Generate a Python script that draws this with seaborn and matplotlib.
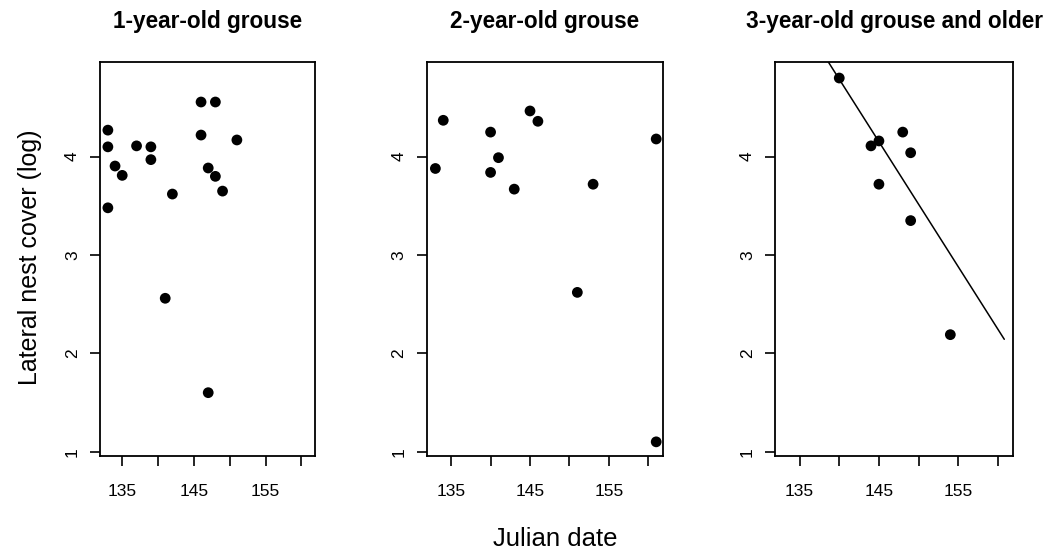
import matplotlib
matplotlib.use("Agg")
import matplotlib.pyplot as plt
import seaborn as sns
import pandas as pd

# ---- data ----
titles = ["1-year-old grouse", "2-year-old grouse", "3-year-old grouse and older"]

date_1yr = [133, 133, 133, 134, 135, 137, 139, 139, 142, 141, 146, 148, 146, 151, 147, 148, 149, 147]
cover_1yr = [4.27, 4.10, 3.48, 3.905, 3.81, 4.11, 4.10, 3.97, 3.62, 2.56, 4.556, 4.556, 4.22, 4.17,
             3.885, 3.80, 3.65, 1.60]

date_2yr = [133, 134, 140, 140, 141, 143, 145, 146, 151, 153, 161, 161]
cover_2yr = [3.88, 4.37, 4.25, 3.84, 3.99, 3.67, 4.465, 4.36, 2.62, 3.72, 4.18, 1.10]

date_3yr = [140, 144, 145, 148, 149, 145, 149, 154]
cover_3yr = [4.80, 4.11, 4.16, 4.25, 4.04, 3.72, 3.35, 2.19]

fit_x_3yr = [138.6, 160.8]
fit_y_3yr = [4.966, 2.143]

x_ticks = [135, 140, 145, 150, 155, 160]
x_tick_labels = ["135", "", "145", "", "155", ""]
y_ticks = [1, 2, 3, 4]
y_tick_labels = ["1", "2", "3", "4"]

x_label = "Julian date"
y_label = "Lateral nest cover (log)"

# ---- style ----
sns.set_theme(style="white")
plt.rcParams["font.family"] = ["Liberation Sans", "DejaVu Sans"]

W, H = 1052, 550
fig = plt.figure(figsize=(W / 100, H / 100), dpi=100)
fig.patch.set_facecolor("white")

# axes boxes in pixel coordinates (left, top, right, bottom)
boxes = [(100, 61.7, 315, 456), (426.7, 61.7, 663.3, 456), (775, 61.7, 1013, 456)]

frames = [
    pd.DataFrame({"date": date_1yr, "cover": cover_1yr}),
    pd.DataFrame({"date": date_2yr, "cover": cover_2yr}),
    pd.DataFrame({"date": date_3yr, "cover": cover_3yr}),
]

for i, (box, df) in enumerate(zip(boxes, frames)):
    l, t, r, b = box
    ax = fig.add_axes([l / W, 1 - b / H, (r - l) / W, (b - t) / H])
    ax.set_facecolor("white")
    sns.scatterplot(data=df, x="date", y="cover", ax=ax, color="black", s=60,
                    edgecolor="none", linewidth=0, zorder=3)
    if i == 2:
        sns.lineplot(x=fit_x_3yr, y=fit_y_3yr, ax=ax, color="black", linewidth=1.1,
                     estimator=None, sort=False)
    ax.set_xlim(131.9, 161.9)
    ax.set_ylim(0.956, 4.966)
    ax.set_xticks(x_ticks)
    ax.set_xticklabels(x_tick_labels)
    ax.set_yticks(y_ticks)
    ax.set_yticklabels(y_tick_labels, rotation=90, va="center")
    ax.set_xlabel("")
    ax.set_ylabel("")
    for sp in ax.spines.values():
        sp.set_visible(True)
        sp.set_color("black")
        sp.set_linewidth(1.3)
    ax.tick_params(axis="both", direction="out", length=7.5, width=1.2, color="black",
                   labelsize=12.5, labelcolor="black", bottom=True, left=True)
    ax.tick_params(axis="x", pad=13)
    ax.tick_params(axis="y", pad=7)
    ax.grid(False)

    fig.text(((l + r) / 2) / W, 1 - 28 / H, titles[i], ha="center", va="baseline",
             fontsize=16.3, fontweight="bold", color="black")

fig.text(493 / W, 1 - 546 / H, x_label, ha="left", va="baseline", fontsize=18.5,
         color="black")
fig.text(37 / W, 1 - 385 / H, y_label, ha="left", va="baseline", rotation=90,
         rotation_mode="anchor", fontsize=18, color="black")

fig.savefig("out.png", dpi=100, facecolor="white")
